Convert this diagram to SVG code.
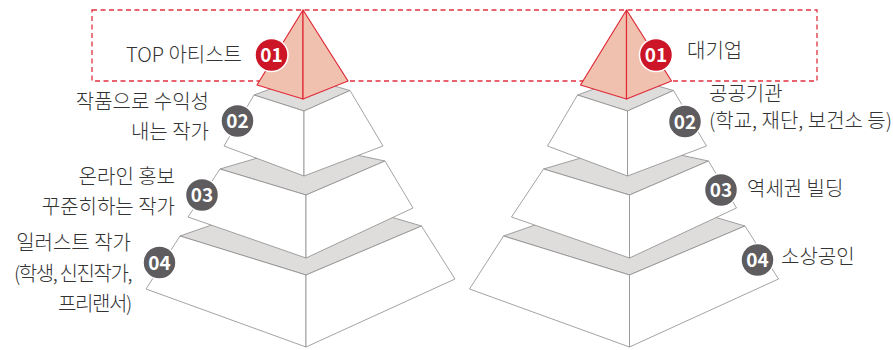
<svg xmlns="http://www.w3.org/2000/svg" xmlns:xlink="http://www.w3.org/1999/xlink" width="893" height="350" viewBox="0 0 893 350">
<style>
.top{fill:#dfdcdc;stroke:#8c8c8c;stroke-width:0.8;stroke-linejoin:round}
.side{fill:#ffffff;stroke:#8c8c8c;stroke-width:0.8;stroke-linejoin:round}
.red{fill:#f1c1b0;stroke:#df2a38;stroke-width:1.2;stroke-linejoin:round}
.dash{fill:none;stroke:#e0323f;stroke-width:1.3;stroke-dasharray:5 3.5}
.bred{fill:#cc1526;stroke:#ffffff;stroke-width:1.5}
.bgray{fill:#5e5c5f;stroke:#ffffff;stroke-width:1.5}
.num{font-family:"Noto Sans CJK KR","Noto Sans",sans-serif;font-weight:700;font-size:19px;fill:#ffffff;text-anchor:middle}
.lbl{font-family:"Noto Sans CJK KR","Noto Sans",sans-serif;font-weight:300;font-size:20px;fill:#333333}
.r{text-anchor:end}
.tight{letter-spacing:-1.4px}
</style>
<defs>
<g id="s4">
<polygon class="top" points="180,236 306,192 421.5,226 306,275"/>
<polygon class="side" points="180,236 306,275 306,347 146,289"/>
<polygon class="side" points="306,275 421.5,226 455,279 306,347"/>
</g>
<g id="s3">
<polygon class="top" points="220,169 305,144 385,161 306,195"/>
<polygon class="side" points="220,169 306,195 306,258 188,217"/>
<polygon class="side" points="306,195 385,161 413,208 306,258"/>
</g>
<g id="s2">
<polygon class="top" points="254,95 303,77 350,90.5 304,111"/>
<polygon class="side" points="254,95 304,111 304,176 224,146"/>
<polygon class="side" points="304,111 350,90.5 383,146 304,176"/>
</g>
<g id="s1">
<polygon class="red" points="303,10 257,85 303,99"/>
<polygon class="red" points="303,10 303,99 348,81"/>
</g>
</defs>

<rect id="top-frame" class="dash" x="92" y="10" width="725" height="71"/>

<g id="left-pyramid">
<g id="left-04">
<use xlink:href="#s4" href="#s4"/>
<circle class="bgray" cx="159.5" cy="262.5" r="16.5"/>
<text class="num" x="159.5" y="269.5">04</text>
<text class="lbl r" x="131" y="250">일러스트 작가</text>
<text class="lbl r tight" x="131" y="281">(학생, 신진작가,</text>
<text class="lbl r tight" x="131" y="311">프리랜서)</text>
</g>
<g id="left-03">
<use xlink:href="#s3" href="#s3"/>
<circle class="bgray" cx="202" cy="195" r="16.5"/>
<text class="num" x="202" y="202">03</text>
<text class="lbl r" x="175" y="184">온라인 홍보</text>
<text class="lbl r" x="175" y="214">꾸준히하는 작가</text>
</g>
<g id="left-02">
<use xlink:href="#s2" href="#s2"/>
<circle class="bgray" cx="237.5" cy="121" r="16.5"/>
<text class="num" x="237.5" y="128">02</text>
<text class="lbl r" x="209" y="109">작품으로 수익성</text>
<text class="lbl r" x="209" y="139">내는 작가</text>
</g>
<g id="left-01">
<use xlink:href="#s1" href="#s1"/>
<circle class="bred" cx="271.5" cy="55" r="16.5"/>
<text class="num" x="271.5" y="62">01</text>
<text class="lbl r" x="242" y="62">TOP 아티스트</text>
</g>
</g>

<g id="right-pyramid">
<g id="right-04">
<use xlink:href="#s4" href="#s4" x="323.5"/>
<circle class="bgray" cx="757.5" cy="260" r="16.5"/>
<text class="num" x="757.5" y="267">04</text>
<text class="lbl" x="781" y="264">소상공인</text>
</g>
<g id="right-03">
<use xlink:href="#s3" href="#s3" x="323.5"/>
<circle class="bgray" cx="721" cy="190" r="16.5"/>
<text class="num" x="721" y="197">03</text>
<text class="lbl" x="747" y="196">역세권 빌딩</text>
</g>
<g id="right-02">
<use xlink:href="#s2" href="#s2" x="323.5"/>
<circle class="bgray" cx="685" cy="121.5" r="16.5"/>
<text class="num" x="685" y="128.5">02</text>
<text class="lbl" x="709" y="101">공공기관</text>
<text class="lbl" x="709" y="128">(학교, 재단, 보건소 등)</text>
</g>
<g id="right-01">
<use xlink:href="#s1" href="#s1" x="323.5"/>
<circle class="bred" cx="656" cy="55" r="16.5"/>
<text class="num" x="656" y="62">01</text>
<text class="lbl" x="687" y="58">대기업</text>
</g>
</g>
</svg>
